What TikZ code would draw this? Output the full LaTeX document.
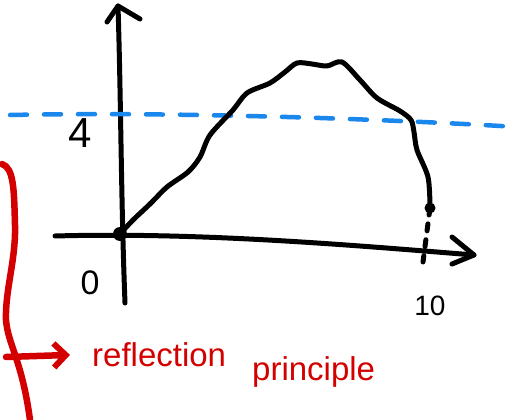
\documentclass[tikz,border=0pt]{standalone}
\usepackage{fontspec}
\setmainfont{Liberation Sans}
\definecolor{skblue}{RGB}{25,135,235}
\definecolor{skred}{RGB}{212,0,0}
\usetikzlibrary{arrows.meta,positioning}

\begin{document}
\begin{tikzpicture}[x=1pt, y=-1pt,
  pen/.style={line width=5pt, line cap=round, line join=round},
  redpen/.style={draw=skred, line width=6.5pt, line cap=round, line join=round},
  bluedash/.style={draw=skblue, line width=4.5pt, line cap=round, dash pattern=on 17pt off 17pt},
  lbl/.style={inner sep=0pt, font=\fontsize{30}{32}\selectfont},
  note/.style={inner sep=0pt, text=skred, anchor=base west, font=\fontsize{33}{35}\selectfont}]
  \useasboundingbox (0,0) rectangle (523,420);

  % axes
  \coordinate (o) at (120,234);
  \coordinate (ytop) at (118,6);
  \coordinate (xend) at (474,255);
  \draw[pen] (125,303) .. controls (121,200) and (121,100) .. (ytop);
  \draw[pen] (107,22) -- (ytop) -- (140,19);
  \draw[pen] (55,236) .. controls (200,232) and (350,245) .. (xend);
  \draw[pen] (452,237) -- (xend) -- (452,264);

  % level 4
  \draw[bluedash] (10,115) .. controls (150,112) and (350,117) .. (518,127);

  % path
  \draw[pen] plot[smooth, tension=0.5] coordinates {
    (o) (133,220) (150,204) (167,187) (188,172) (200,157) (210,135)
    (233,110) (247,93) (270,83) (285,72) (297,63) (312,64) (327,66) (342,62)
    (360,80) (377,98) (400,111) (411,120) (414,132) (417,150) (428,177) (430,206)};
  \fill (o) circle (7pt);
  \fill (430,208) coordinate (hit) circle (5.5pt);
  \draw[pen, dash pattern=on 7pt off 9pt] (hit) -- (423,262);

  % labels
  \node[lbl, font=\fontsize{42}{44}\selectfont] (four) at (80,133) {4};
  \node[lbl, font=\fontsize{34}{36}\selectfont] (zero) at (90,283) {0};
  \node[lbl, font=\fontsize{28}{30}\selectfont] (ten) at (430,306) {10};

  % brace and note
  \draw[redpen] (2,164) .. controls (14,168) and (14,190) .. (15,225)
    .. controls (16,260) and (5,290) .. (6,320)
    .. controls (8,345) and (22,360) .. (30,420);
  \node[note] (refl) at (92,366) {reflection};
  \node[note] (princ) at (252,380) {principle};
  \coordinate (astart) at (6,357);
  \draw[redpen, shorten >=22pt, -{Straight Barb[length=12pt, width=24pt, line width=6pt]}] (astart) -- (refl.west);
\end{tikzpicture}
\end{document}
